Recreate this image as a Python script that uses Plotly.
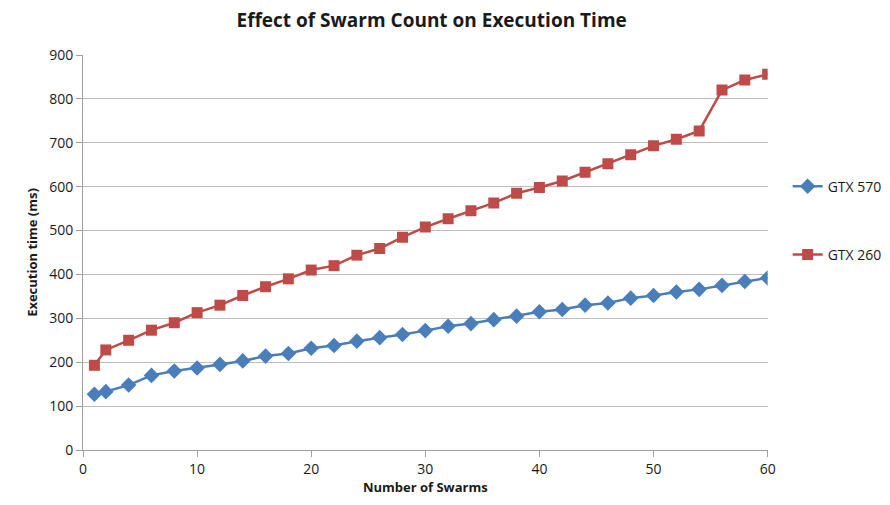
import plotly.graph_objects as go

swarms = [1, 2] + list(range(4, 61, 2))
gtx570 = [127, 133, 148, 170, 180, 187, 195, 203, 214, 220, 232, 238, 248, 256, 263, 272,
          282, 288, 297, 305, 315, 320, 330, 335, 346, 352, 360, 366, 375, 384, 392]
gtx260 = [193, 228, 250, 273, 290, 313, 330, 352, 372, 390, 410, 420, 444, 459, 485, 508,
          527, 545, 563, 585, 598, 613, 633, 652, 673, 693, 708, 727, 820, 843, 856]

font = "Open Sans, Liberation Sans, Arial, sans-serif"

fig = go.Figure()
fig.add_trace(go.Scatter(x=swarms, y=gtx570, name="GTX 570", mode="lines+markers",
                         line=dict(color="#4A7EBB", width=2.5),
                         marker=dict(symbol="diamond", size=12, color="#4A7EBB"),
                         legendgroup="a"))
fig.add_trace(go.Scatter(x=swarms, y=gtx260, name="GTX 260", mode="lines+markers",
                         line=dict(color="#BE4B48", width=2.5),
                         marker=dict(symbol="square", size=11, color="#BE4B48"),
                         legendgroup="b"))

fig.update_layout(
    width=890, height=505,
    margin=dict(l=83, r=120, t=55, b=54),
    paper_bgcolor="white", plot_bgcolor="white",
    font=dict(family=font, size=14, color="#1a1a1a"),
    title=dict(text="<b>Effect of Swarm Count on Execution Time</b>", x=0.485, xanchor="center",
               y=0.96, yanchor="middle", font=dict(size=19, color="#1a1a1a")),
    showlegend=True,
    legend=dict(xref="container", x=0.885, xanchor="left", y=0.563, yanchor="middle",
                yref="container", tracegroupgap=47, font=dict(size=14), itemwidth=30),
    xaxis=dict(range=[0, 60], tickvals=[0, 10, 20, 30, 40, 50, 60], showgrid=False,
               showline=True, linecolor="#a0a0a0", linewidth=1, ticks="outside",
               tickcolor="#a0a0a0", ticklen=6, zeroline=False,
               title=dict(text="<b>Number of Swarms</b>", font=dict(size=13), standoff=6)),
    yaxis=dict(range=[0, 900], dtick=100, showgrid=True, gridcolor="#bdbdbd", gridwidth=1,
               showline=True, linecolor="#a0a0a0", linewidth=1, ticks="outside",
               tickcolor="#a0a0a0", ticklen=6, zeroline=False,
               title=dict(text="<b>Execution time (ms)</b>", font=dict(size=13), standoff=8)),
)

fig.write_html("out.html")
